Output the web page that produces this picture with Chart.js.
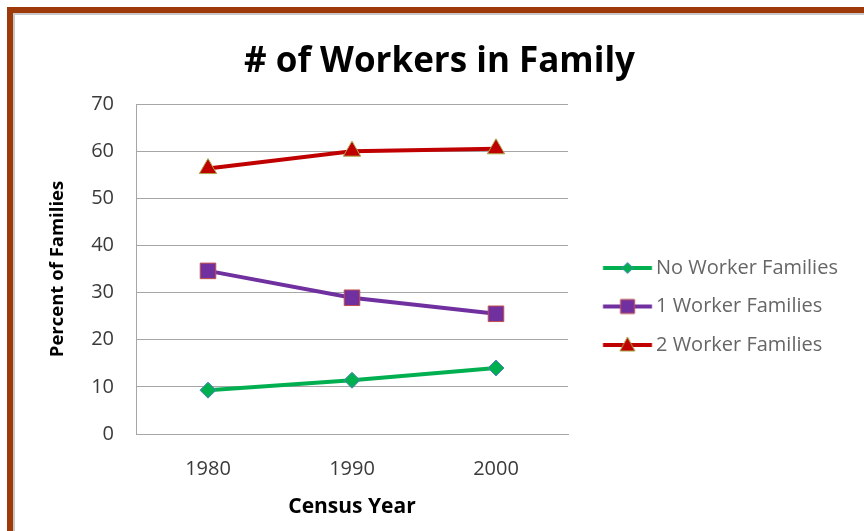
<!DOCTYPE html>
<html>
<head>
<meta charset="utf-8">
<script src="https://cdn.jsdelivr.net/npm/chart.js@4.4.0/dist/chart.umd.min.js"></script>
<style>
  body { margin: 0; background: #fff; width: 864px; height: 531px; overflow: hidden; }
  #frame { position: absolute; left: 7px; top: 7px; width: 857px; height: 524px;
           border-top: 6px solid #9e3a0a; border-left: 6px solid #9e3a0a; box-sizing: border-box; }
  #inner { width: 100%; height: 100%; border-top: 2px solid #c8c8c8; border-left: 2px solid #c8c8c8; box-sizing: border-box; }
  canvas { display: block; }
</style>
</head>
<body>
<div id="frame"><div id="inner"><canvas id="chart"></canvas></div></div>
<script>
var years = ['1980', '1990', '2000'];
var noWorker = [9.3, 11.4, 14.0];
var oneWorker = [34.6, 28.9, 25.5];
var twoWorker = [56.3, 60.0, 60.5];
var yTicks = [0, 10, 20, 30, 40, 50, 60, 70];

var FONT = "'Open Sans', sans-serif";

// legend picture: line with the marker in the middle
function legendIcon(color, marker, fill, edge) {
    var c = document.createElement('canvas');
    c.width = 100;
    c.height = 24;
    var g = c.getContext('2d');
    g.strokeStyle = color;
    g.lineWidth = 4;
    g.beginPath();
    g.moveTo(36.75, 12);
    g.lineTo(85.75, 12);
    g.stroke();
    var cx = 61.25, cy = 12;
    g.fillStyle = fill;
    g.strokeStyle = edge;
    g.lineWidth = 1;
    g.beginPath();
    if (marker === 'diamond') {
        g.moveTo(cx, cy - 5.5); g.lineTo(cx + 5.5, cy); g.lineTo(cx, cy + 5.5); g.lineTo(cx - 5.5, cy);
    } else if (marker === 'square') {
        g.rect(cx - 7, cy - 7, 14, 14);
    } else {
        g.moveTo(cx, cy - 8); g.lineTo(cx + 7.5, cy + 6); g.lineTo(cx - 7.5, cy + 6);
    }
    g.closePath();
    g.fill();
    g.stroke();
    return c;
}

var icons = [
    legendIcon('#00b050', 'diamond', '#00b050', '#4f81bd'),
    legendIcon('#7030a0', 'square', '#7030a0', '#c0504d'),
    legendIcon('#c00000', 'triangle', '#c00000', '#a8a848')
];

var ctx = document.getElementById('chart').getContext('2d');
ctx.canvas.width = 849;
ctx.canvas.height = 516;

var fixLegend = {
    id: 'fixLegend',
    beforeLayout: function (chart) {
        var lg = chart.legend;
        if (lg && !lg._patched) {
            var fit = lg.fit;
            lg.fit = function () {
                fit.call(this);
                this.width = 296;
            };
            lg._patched = true;
        }
    }
};

var chart = new Chart(ctx, {
    type: 'line',
    data: {
        labels: years,
        datasets: [{
            label: 'No Worker Families',
            data: noWorker,
            borderColor: '#00b050',
            borderWidth: 4,
            pointStyle: 'rectRot',
            pointRadius: 8,
            pointBackgroundColor: '#00b050',
            pointBorderColor: '#4f81bd',
            pointBorderWidth: 1
        }, {
            label: '1 Worker Families',
            data: oneWorker,
            borderColor: '#7030a0',
            borderWidth: 4,
            pointStyle: 'rect',
            pointRadius: 11,
            pointBackgroundColor: '#7030a0',
            pointBorderColor: '#c0504d',
            pointBorderWidth: 1
        }, {
            label: '2 Worker Families',
            data: twoWorker,
            borderColor: '#c00000',
            borderWidth: 4,
            pointStyle: 'triangle',
            pointRadius: 10,
            pointBackgroundColor: '#c00000',
            pointBorderColor: '#a8a848',
            pointBorderWidth: 1
        }]
    },
    options: {
        responsive: false,
        animation: false,
        layout: { padding: 0 },
        plugins: {
            title: {
                display: true,
                text: '# of Workers in Family',
                color: '#000',
                font: { family: FONT, size: 35, weight: 'bold', lineHeight: 1.2 },
                padding: { top: 26, bottom: 21 }
            },
            legend: {
                position: 'right',
                align: 'center',
                title: { display: true, text: '', font: { size: 10, lineHeight: 1 }, padding: { top: 57, bottom: 0 } },
                labels: {
                    usePointStyle: true,
                    pointStyleWidth: 59.5,
                    padding: 18.5,
                    color: '#333',
                    font: { family: FONT, size: 20 },
                    generateLabels: function (chart) {
                        return chart.data.datasets.map(function (ds, i) {
                            return {
                                text: ds.label,
                                pointStyle: icons[i],
                                fillStyle: 'rgba(0,0,0,0)',
                                strokeStyle: 'rgba(0,0,0,0)',
                                lineWidth: 0,
                                hidden: false,
                                datasetIndex: i
                            };
                        });
                    }
                }
            },
            tooltip: { enabled: false }
        },
        scales: {
            x: {
                offset: true,
                grid: { display: false, drawTicks: false },
                border: { display: true, color: '#a6a6a6', width: 1 },
                ticks: { color: '#3a3a3a', padding: 23, font: { family: FONT, size: 20 } },
                title: {
                    display: true,
                    text: 'Census Year',
                    color: '#000',
                    font: { family: FONT, size: 21, weight: 'bold', lineHeight: 1.2 },
                    padding: { top: 0, bottom: 11.5 }
                },
                afterFit: function (scale) { scale.height = 97; }
            },
            y: {
                min: 0,
                max: 70,
                afterBuildTicks: function (scale) {
                    scale.ticks = yTicks.map(function (v) { return { value: v }; });
                },
                grid: { color: '#a6a6a6', lineWidth: 1, drawTicks: false },
                border: { display: true, color: '#a6a6a6', width: 1 },
                ticks: { color: '#3a3a3a', padding: 22, font: { family: FONT, size: 20 } },
                title: {
                    display: true,
                    text: 'Percent of Families',
                    color: '#000',
                    font: { family: FONT, size: 18.5, weight: 'bold', lineHeight: 1.2 },
                    padding: { top: 32, bottom: 0 }
                },
                afterFit: function (scale) { scale.width = 121; }
            }
        }
    },
    plugins: [fixLegend]
});
</script>
</body>
</html>
